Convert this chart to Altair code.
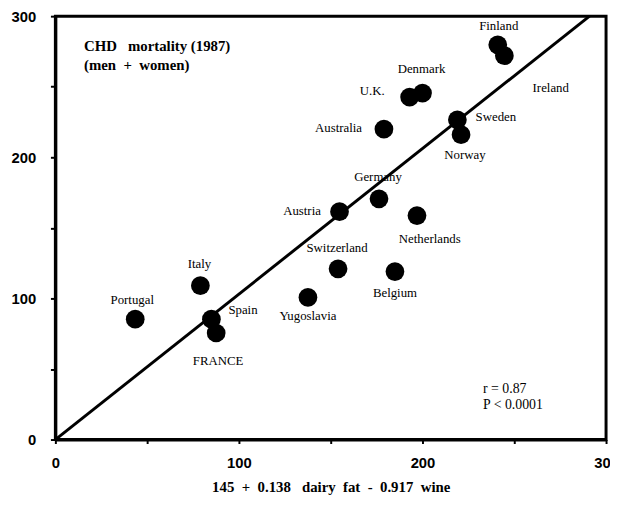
import altair as alt
import pandas as pd

countries = ["Finland", "Ireland", "Denmark", "U.K.", "Australia", "Sweden", "Norway",
             "Germany", "Austria", "Netherlands", "Switzerland", "Belgium", "Yugoslavia",
             "Italy", "Portugal", "Spain", "FRANCE"]
predicted = [241, 244.6, 200, 193, 179, 219, 221, 176.3, 154.8, 197, 154, 185, 137.6,
             79, 43.5, 85, 87.6]
mortality = [279.7, 272, 245.5, 242.7, 220, 226.6, 216, 170.6, 161.5, 158.7, 121, 119,
             100.7, 109, 85.3, 85.3, 75.5]

# label offsets in pixels (style, not data)
label_dx = [1, 47, -1, -38, -46, 39, 4, -1, -38, 13, -1, 0, 0, -1, -3, 32, 2]
label_dy = [-19, 33, -24, -6, -1, -3, 21, -22, -1, 24, -21, 22, 19, -22, -19, -9, 28]

line_x = [0, 291]
line_y = [0, 300]

NB = "\u00a0"
note_lines = ["CHD" + NB * 3 + "mortality (1987)", "(men" + NB * 2 + "+" + NB * 2 + "women)"]
note_x = [15.6, 15.6]
note_y = [279, 265.7]

stat_lines = ["r = 0.87", "P < 0.0001"]
stat_x = [233, 233]
stat_y = [36, 24.5]

x_title = "145" + NB * 2 + "+" + NB * 2 + "0.138" + NB * 3 + "dairy" + NB * 2 + "fat" + NB * 2 + "-" + NB * 2 + "0.917" + NB * 2 + "wine"

pts = pd.DataFrame({"country": countries, "x": predicted, "y": mortality})
line_df = pd.DataFrame({"x": line_x, "y": line_y})
note_df = pd.DataFrame({"t": note_lines, "x": note_x, "y": note_y})
stat_df = pd.DataFrame({"t": stat_lines, "x": stat_x, "y": stat_y})

xs = alt.Scale(domain=[0, 300], nice=False)
ys = alt.Scale(domain=[0, 300], nice=False)

lab_expr = "datum.value % 100 == 0 ? datum.label : ''"

xax = alt.Axis(values=[0, 50, 100, 150, 200, 250, 300], labelExpr=lab_expr, grid=False,
               tickSize=4, tickWidth=2, tickColor="black", domainColor="black", domainWidth=3,
               labelFont="Liberation Sans", labelFontWeight="bold", labelFontSize=15,
               labelColor="black", labelPadding=12, labelFlush=False, labelOverlap=False,
               title=x_title, titleFont="Liberation Serif", titleFontWeight="bold",
               titleFontSize=15, titleColor="black", titlePadding=10)
yax = alt.Axis(values=[0, 50, 100, 150, 200, 250, 300], labelExpr=lab_expr, grid=False,
               tickSize=5, tickWidth=2, tickColor="black", domainColor="black", domainWidth=3,
               labelFont="Liberation Sans", labelFontWeight="bold", labelFontSize=15,
               labelColor="black", labelPadding=15, labelFlush=False, labelOverlap=False,
               title=None)

line = alt.Chart(line_df).mark_line(color="black", strokeWidth=3).encode(
    x=alt.X("x:Q", scale=xs, axis=xax), y=alt.Y("y:Q", scale=ys, axis=yax))

dots = alt.Chart(pts).mark_circle(color="black", opacity=1, size=360).encode(
    x=alt.X("x:Q", scale=xs), y=alt.Y("y:Q", scale=ys))

label_layers = []
for c, px, py, dx, dy in zip(countries, predicted, mortality, label_dx, label_dy):
    d = pd.DataFrame({"country": [c], "x": [px], "y": [py]})
    label_layers.append(
        alt.Chart(d).mark_text(font="Liberation Serif", fontSize=13, color="black",
                               dx=dx, dy=dy, align="center", baseline="middle").encode(
            x=alt.X("x:Q", scale=xs), y=alt.Y("y:Q", scale=ys), text="country:N"))

notes = alt.Chart(note_df).mark_text(font="Liberation Serif", fontSize=15, fontWeight="bold",
                                     color="black", align="left", baseline="middle").encode(
    x=alt.X("x:Q", scale=xs), y=alt.Y("y:Q", scale=ys), text="t:N")

stats = alt.Chart(stat_df).mark_text(font="Liberation Serif", fontSize=14,
                                     color="black", align="left", baseline="middle").encode(
    x=alt.X("x:Q", scale=xs), y=alt.Y("y:Q", scale=ys), text="t:N")

chart = alt.layer(line, dots, *label_layers, notes, stats).properties(
    width=558, height=429,
    padding={"left": 48, "top": 5, "right": 4, "bottom": 60},
    autosize="none",
    background="white",
).configure_view(stroke="black", strokeWidth=3)

chart.save("out.html", embed_options={"renderer": "svg", "actions": False})
